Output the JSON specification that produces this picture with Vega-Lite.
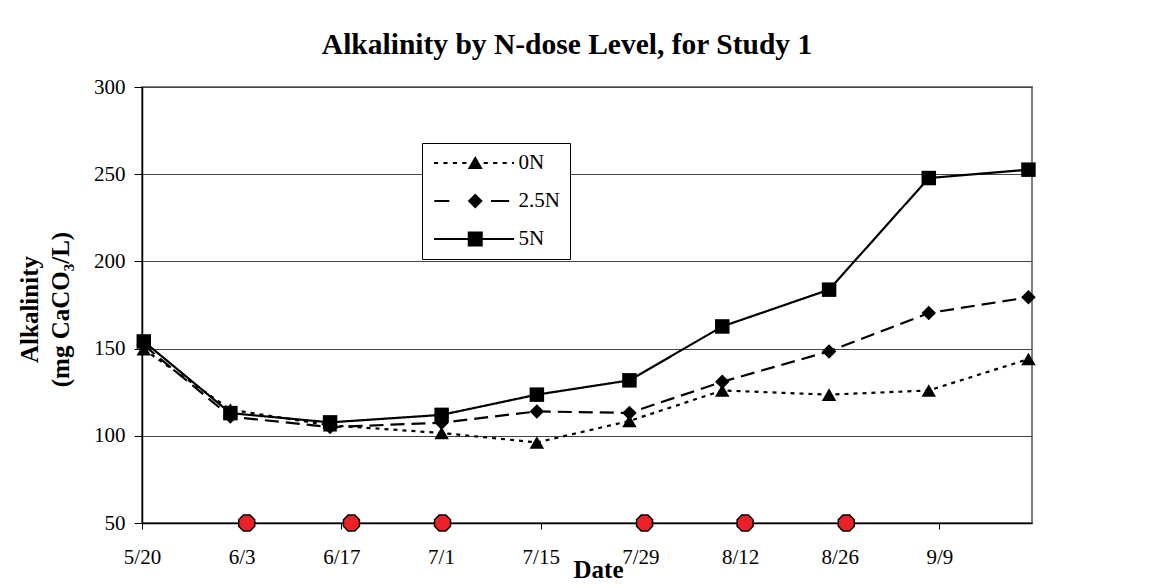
{
  "$schema": "https://vega.github.io/schema/vega-lite/v6.json",
  "width": 890,
  "height": 436,
  "autosize": {"type": "none"},
  "padding": {"left": 142, "top": 87, "right": 118, "bottom": 65},
  "background": "white",
  "title": {
    "text": "Alkalinity by N-dose Level, for Study 1",
    "font": "Liberation Serif",
    "fontSize": 29.5,
    "fontWeight": "bold",
    "color": "black",
    "anchor": "middle",
    "frame": "group",
    "dx": -20,
    "dy": 41,
    "baseline": "alphabetic",
    "offset": 34
  },
  "datasets": {
    "series": [
      {"level": "0N", "date": "2003-05-20T06:00", "value": 149.6},
      {"level": "0N", "date": "2003-06-01T10:00", "value": 115},
      {"level": "0N", "date": "2003-06-15T10:00", "value": 106},
      {"level": "0N", "date": "2003-07-01T02:00", "value": 101.6},
      {"level": "0N", "date": "2003-07-14T11:00", "value": 96.2},
      {"level": "0N", "date": "2003-07-27T11:00", "value": 108.5},
      {"level": "0N", "date": "2003-08-09T12:00", "value": 126},
      {"level": "0N", "date": "2003-08-24T12:00", "value": 123.6},
      {"level": "0N", "date": "2003-09-07T12:00", "value": 126},
      {"level": "0N", "date": "2003-09-21T12:00", "value": 144},
      {"level": "2.5N", "date": "2003-05-20T06:00", "value": 152},
      {"level": "2.5N", "date": "2003-06-01T10:00", "value": 111},
      {"level": "2.5N", "date": "2003-06-15T10:00", "value": 105},
      {"level": "2.5N", "date": "2003-07-01T02:00", "value": 107.5},
      {"level": "2.5N", "date": "2003-07-14T11:00", "value": 114},
      {"level": "2.5N", "date": "2003-07-27T11:00", "value": 113.1},
      {"level": "2.5N", "date": "2003-08-09T12:00", "value": 131},
      {"level": "2.5N", "date": "2003-08-24T12:00", "value": 148.4},
      {"level": "2.5N", "date": "2003-09-07T12:00", "value": 170.4},
      {"level": "2.5N", "date": "2003-09-21T12:00", "value": 179.4},
      {"level": "5N", "date": "2003-05-20T06:00", "value": 154.1},
      {"level": "5N", "date": "2003-06-01T10:00", "value": 113},
      {"level": "5N", "date": "2003-06-15T10:00", "value": 107.7},
      {"level": "5N", "date": "2003-07-01T02:00", "value": 112},
      {"level": "5N", "date": "2003-07-14T11:00", "value": 123.6},
      {"level": "5N", "date": "2003-07-27T11:00", "value": 131.8},
      {"level": "5N", "date": "2003-08-09T12:00", "value": 162.7},
      {"level": "5N", "date": "2003-08-24T12:00", "value": 183.8},
      {"level": "5N", "date": "2003-09-07T12:00", "value": 247.8},
      {"level": "5N", "date": "2003-09-21T12:00", "value": 252.6}
    ],
    "events": [
      {"date": "2003-06-03T17:00", "value": 50},
      {"date": "2003-06-18T10:00", "value": 50},
      {"date": "2003-07-01T05:00", "value": 50},
      {"date": "2003-07-29T14:00", "value": 50},
      {"date": "2003-08-12T17:00", "value": 50},
      {"date": "2003-08-26T22:00", "value": 50}
    ]
  },
  "encoding": {
    "x": {
      "field": "date",
      "type": "temporal",
      "scale": {"domain": [{"year": 2003, "month": 5, "date": 20}, {"year": 2003, "month": 9, "date": 22}]},
      "axis": {
        "values": [
          {"year": 2003, "month": 5, "date": 20},
          {"year": 2003, "month": 6, "date": 3},
          {"year": 2003, "month": 6, "date": 17},
          {"year": 2003, "month": 7, "date": 1},
          {"year": 2003, "month": 7, "date": 15},
          {"year": 2003, "month": 7, "date": 29},
          {"year": 2003, "month": 8, "date": 12},
          {"year": 2003, "month": 8, "date": 26},
          {"year": 2003, "month": 9, "date": 9}
        ],
        "format": "%-m/%-d",
        "grid": false,
        "tickSize": 6,
        "labelPadding": 34,
        "labelBaseline": "alphabetic",
        "labelOverlap": false,
        "labelFlush": false,
        "domainWidth": 1.5,
        "title": "Date",
        "titleFontSize": 25,
        "titleFontWeight": "bold",
        "titleX": 456,
        "titleY": 54,
        "titleBaseline": "alphabetic"
      }
    },
    "y": {
      "field": "value",
      "type": "quantitative",
      "scale": {"domain": [50, 300], "nice": false, "zero": false},
      "axis": {
        "values": [50, 100, 150, 200, 250, 300],
        "grid": true,
        "tickSize": 8,
        "labelPadding": 9,
        "domainWidth": 1.5,
        "title": ["Alkalinity", "(mg CaCO₃/L)"],
        "titleFontSize": 25,
        "titleFontWeight": "bold",
        "titleX": -113,
        "titleY": 222,
        "titleAngle": -90,
        "titleAlign": "center",
        "titleBaseline": "middle",
        "titleLineHeight": 31
      }
    }
  },
  "layer": [
    {
      "data": {"name": "series"},
      "mark": {"type": "line", "color": "black", "strokeWidth": 2.2},
      "encoding": {
        "strokeDash": {
          "field": "level",
          "type": "nominal",
          "scale": {"range": [[4, 5], [14, 7], [1, 0]]},
          "legend": null
        }
      }
    },
    {
      "data": {"name": "series"},
      "mark": {"type": "point", "filled": true, "color": "black", "opacity": 1, "size": 210},
      "encoding": {
        "shape": {
          "field": "level",
          "type": "nominal",
          "scale": {"range": ["triangle-up", "diamond", "square"]},
          "legend": null
        }
      }
    },
    {
      "data": {"name": "series"},
      "mark": {"type": "point", "filled": true, "color": "black", "opacity": 0, "size": 196},
      "encoding": {
        "shape": {
          "field": "level",
          "type": "nominal",
          "scale": {
            "domain": ["0N", "2.5N", "5N"],
            "range": [
              "M-1.14,-0.15L-0.55,-0.15L-0.55,0.15L-1.14,0.15ZM0.2,-0.15L0.8,-0.15L0.8,0.15L0.2,0.15ZM1.55,-0.15L2.15,-0.15L2.15,0.15L1.55,0.15ZM2.9,-0.15L3.5,-0.15L3.5,0.15L2.9,0.15ZM5.95,-0.15L6.55,-0.15L6.55,0.15L5.95,0.15ZM7.3,-0.15L7.9,-0.15L7.9,0.15L7.3,0.15ZM8.65,-0.15L9.25,-0.15L9.25,0.15L8.65,0.15ZM10,-0.15L10.3,-0.15L10.3,0.15L10,0.15ZM4.75,-1L5.82,0.87L3.68,0.87Z",
              "M-1.1,-0.15L1.05,-0.15L1.05,0.15L-1.1,0.15ZM7,-0.15L9.6,-0.15L9.6,0.15L7,0.15ZM4.75,-1.07L5.82,0L4.75,1.07L3.68,0Z",
              "M-1.14,-0.15L10.3,-0.15L10.3,0.15L-1.14,0.15ZM3.68,-1.07L5.82,-1.07L5.82,1.07L3.68,1.07Z"
            ]
          },
          "legend": {
            "title": null,
            "orient": "none",
            "legendX": 280,
            "legendY": 56,
            "direction": "vertical",
            "strokeColor": "black",
            "fillColor": "white",
            "padding": 9.5,
            "symbolSize": 196,
            "symbolOpacity": 1,
            "symbolFillColor": "black",
            "labelOffset": 66,
            "labelFont": "Liberation Serif",
            "labelFontSize": 21,
            "labelColor": "black",
            "rowPadding": 16
          }
        }
      }
    },
    {
      "data": {"name": "events"},
      "mark": {
        "type": "point",
        "shape": "M-0.414,-1L0.414,-1L1,-0.414L1,0.414L0.414,1L-0.414,1L-1,0.414L-1,-0.414Z",
        "filled": true,
        "fill": "#ec2027",
        "stroke": "black",
        "strokeWidth": 1.5,
        "size": 256,
        "opacity": 1
      }
    }
  ],
  "resolve": {"scale": {"shape": "independent"}},
  "config": {
    "view": {"stroke": "#808080", "strokeWidth": 2},
    "axis": {
      "domainColor": "black",
      "tickColor": "black",
      "labelColor": "black",
      "titleColor": "black",
      "labelFont": "Liberation Serif",
      "titleFont": "Liberation Serif",
      "labelFontSize": 21,
      "gridColor": "#444444",
      "gridWidth": 1
    }
  }
}
